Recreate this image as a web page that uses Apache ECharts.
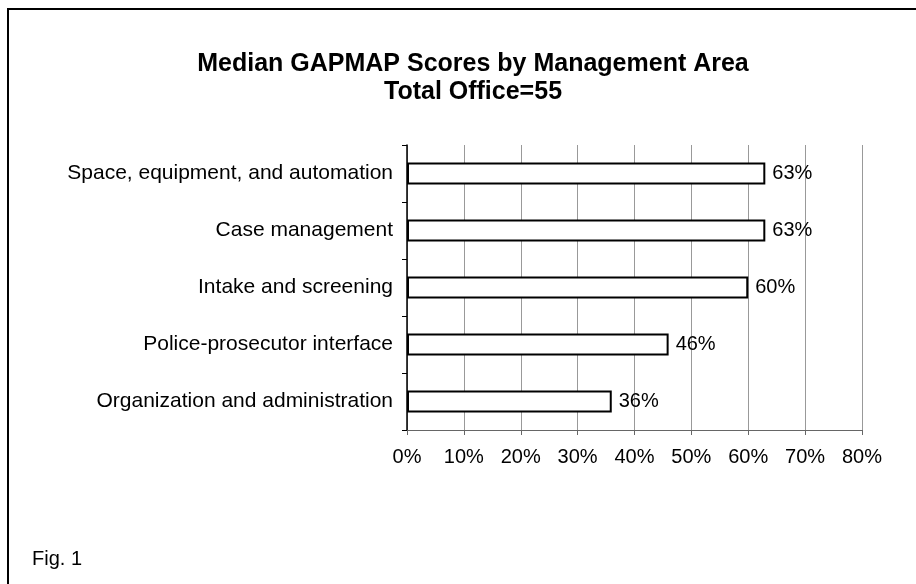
<!DOCTYPE html>
<html>
<head>
<meta charset="utf-8">
<script src="https://cdn.jsdelivr.net/npm/echarts@6/dist/echarts.min.js"></script>
<style>
html,body{margin:0;padding:0;background:#fff;}
#chart{width:916px;height:584px;}
</style>
</head>
<body>
<div id="chart"></div>
<script>
var categories = [
  "Space, equipment, and automation",
  "Case management",
  "Intake and screening",
  "Police-prosecutor interface",
  "Organization and administration"
];
var scores = [63, 63, 60, 46, 36];
var titleLines = ["Median GAPMAP Scores by Management Area", "Total Office=55"];
var figLabel = "Fig. 1";

var FONT = "'Liberation Sans', Arial, sans-serif";
var chart = echarts.init(document.getElementById('chart'), null, {renderer: 'canvas'});
chart.setOption({
  backgroundColor: '#fff',
  animation: false,
  title: {
    text: titleLines.join('\n'),
    left: 468,
    top: 45,
    textAlign: 'center',
    textStyle: {fontFamily: FONT, fontSize: 25, fontWeight: 'bold', color: '#000', lineHeight: 28}
  },
  graphic: [
    {type: 'polyline', shape: {points: [[8, 584], [8, 9], [916, 9]]}, style: {stroke: '#000', lineWidth: 2, fill: null}},
    {type: 'text', left: 32, top: 549, style: {text: figLabel, font: '20px ' + FONT, fill: '#000'}}
  ],
  grid: {left: 407, right: 54, top: 145, bottom: 154, containLabel: false},
  xAxis: {
    type: 'value', min: 0, max: 80, interval: 10,
    axisLine: {show: true, lineStyle: {color: '#666', width: 1}},
    axisTick: {show: true, length: 5, lineStyle: {color: '#666'}},
    splitLine: {show: true, lineStyle: {color: '#999', width: 1}},
    axisLabel: {formatter: '{value}%', fontFamily: FONT, fontSize: 20, color: '#000', margin: 17}
  },
  yAxis: {
    type: 'category', data: categories, inverse: true,
    axisLine: {show: true, lineStyle: {color: '#000', width: 1.5}},
    axisTick: {show: true, length: 5, lineStyle: {color: '#000'}},
    splitLine: {show: false},
    axisLabel: {fontFamily: FONT, fontSize: 21, color: '#000', margin: 14}
  },
  series: [{
    type: 'bar', data: scores, barWidth: 22,
    itemStyle: {color: '#fff', borderColor: '#000', borderWidth: 2},
    label: {show: true, position: 'right', distance: 7, formatter: '{c}%', fontFamily: FONT, fontSize: 20, color: '#000'}
  }]
});
</script>
</body>
</html>
